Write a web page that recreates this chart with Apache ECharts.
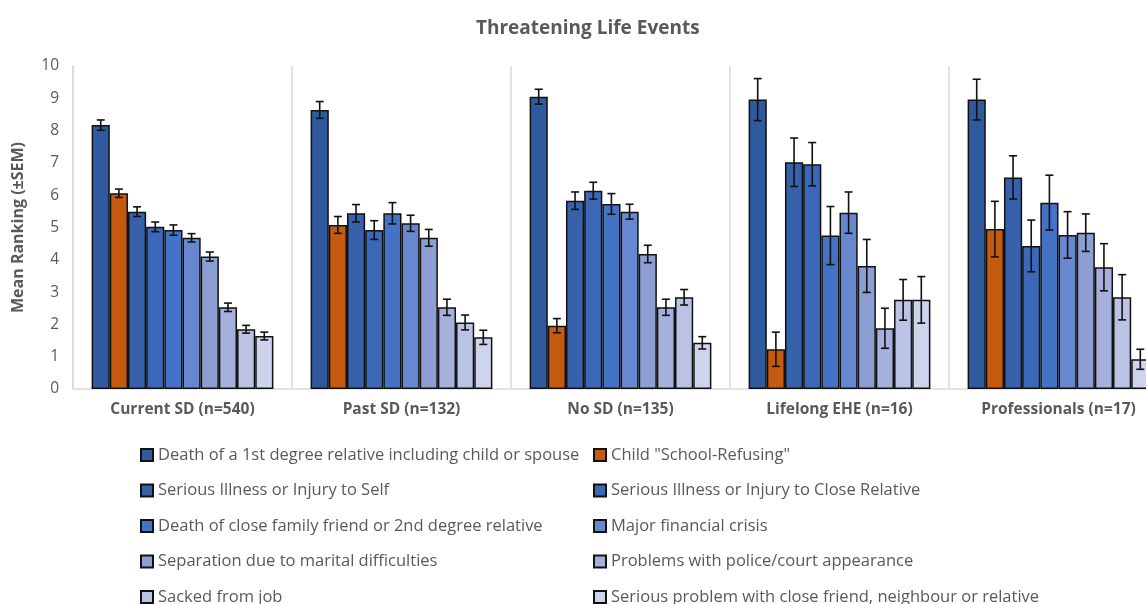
<!DOCTYPE html>
<html>
<head>
<meta charset="utf-8">
<script src="https://cdn.jsdelivr.net/npm/echarts@6/dist/echarts.min.js"></script>
<style>
html,body{margin:0;padding:0;background:#fff;}
#chart{width:1146px;height:604px;}
</style>
</head>
<body>
<div id="chart"></div>
<script>
const groups = ['Current SD (n=540)', 'Past SD (n=132)', 'No SD (n=135)', 'Lifelong EHE (n=16)', 'Professionals (n=17)'];
const eventNames = [
  'Death of a 1st degree relative including child or spouse',
  'Child "School-Refusing"',
  'Serious Illness or Injury to Self',
  'Serious Illness or Injury to Close Relative',
  'Death of close family friend or 2nd degree relative',
  'Major financial crisis',
  'Separation due to marital difficulties',
  'Problems with police/court appearance',
  'Sacked from job',
  'Serious problem with close friend, neighbour or relative'
];
// mean values per event, across the five groups
const deathFirstDegree   = [8.17, 8.64, 9.05, 8.96, 8.96];
const schoolRefusing     = [6.06, 5.08, 1.96, 1.23, 4.95];
const illnessSelf        = [5.49, 5.44, 5.83, 7.02, 6.55];
const illnessRelative    = [5.02, 4.92, 6.14, 6.96, 4.43];
const deathFriend        = [4.92, 5.44, 5.73, 4.75, 5.77];
const financialCrisis    = [4.68, 5.13, 5.49, 5.46, 4.77];
const separation         = [4.10, 4.68, 4.18, 3.81, 4.84];
const policeCourt        = [2.53, 2.53, 2.53, 1.88, 3.77];
const sackedJob          = [1.85, 2.06, 2.84, 2.76, 2.84];
const problemFriend      = [1.64, 1.60, 1.43, 2.76, 0.92];
// SEM per event, across the five groups
const semDeathFirstDegree = [0.16, 0.26, 0.23, 0.65, 0.63];
const semSchoolRefusing   = [0.13, 0.26, 0.22, 0.53, 0.86];
const semIllnessSelf      = [0.15, 0.27, 0.27, 0.75, 0.67];
const semIllnessRelative  = [0.15, 0.29, 0.26, 0.67, 0.80];
const semDeathFriend      = [0.16, 0.33, 0.32, 0.90, 0.85];
const semFinancialCrisis  = [0.13, 0.25, 0.23, 0.64, 0.72];
const semSeparation       = [0.14, 0.26, 0.27, 0.82, 0.58];
const semPoliceCourt      = [0.13, 0.25, 0.25, 0.62, 0.73];
const semSackedJob        = [0.12, 0.23, 0.24, 0.63, 0.70];
const semProblemFriend    = [0.12, 0.22, 0.19, 0.72, 0.31];
const yTicks = [0,1,2,3,4,5,6,7,8,9,10];

const means = [deathFirstDegree, schoolRefusing, illnessSelf, illnessRelative, deathFriend, financialCrisis, separation, policeCourt, sackedJob, problemFriend];
const sems = [semDeathFirstDegree, semSchoolRefusing, semIllnessSelf, semIllnessRelative, semDeathFriend, semFinancialCrisis, semSeparation, semPoliceCourt, semSackedJob, semProblemFriend];
const colors = ['#305a9e', '#c55a11', '#3762ab', '#3c68b8', '#4472c4', '#6787ce', '#8d9ed3', '#a5b1dc', '#bac3e3', '#cdd4eb'];

const FONT = '"Open Sans", "Liberation Sans", sans-serif';
const TXT = '#595959';
const CAT_GAP = 0.17;
const N = means.length;

const series = means.map((vals, i) => ({
  name: eventNames[i],
  type: 'bar',
  data: vals,
  barGap: '0%',
  barCategoryGap: (CAT_GAP * 100) + '%',
  itemStyle: { color: colors[i], borderColor: '#111', borderWidth: 1.5 },
  emphasis: { disabled: true },
  z: 2
}));

const errData = [];
for (let s = 0; s < N; s++) {
  for (let g = 0; g < groups.length; g++) {
    errData.push([g, s, means[s][g] - sems[s][g], means[s][g] + sems[s][g]]);
  }
}

series.push({
  type: 'custom',
  name: 'err',
  data: errData,
  dimensions: ['g', 's', 'lo', 'hi'],
  encode: { x: 0, y: [2, 3] },
  z: 5,
  silent: true,
  renderItem: function (params, api) {
    const g = api.value(0), s = api.value(1);
    const lo = api.coord([g, api.value(2)]);
    const hi = api.coord([g, api.value(3)]);
    const catW = api.size([1, 0])[0];
    const barW = catW * (1 - CAT_GAP) / N;
    const x = lo[0] + (s - (N - 1) / 2) * barW;
    const cap = 4;
    const style = { stroke: '#111', lineWidth: 1.6 };
    return {
      type: 'group',
      children: [
        { type: 'line', shape: { x1: x, y1: lo[1], x2: x, y2: hi[1] }, style: style },
        { type: 'line', shape: { x1: x - cap, y1: lo[1], x2: x + cap, y2: lo[1] }, style: style },
        { type: 'line', shape: { x1: x - cap, y1: hi[1], x2: x + cap, y2: hi[1] }, style: style }
      ]
    };
  }
});

const legendBase = {
  orient: 'vertical',
  top: 446,
  height: 300,
  padding: 0,
  itemWidth: 12,
  itemHeight: 12,
  itemGap: 17.5,
  icon: 'rect',
  selectedMode: false,
  textStyle: { color: TXT, fontSize: 16.5, fontFamily: FONT, lineHeight: 18 }
};

const chart = echarts.init(document.getElementById('chart'), null, { renderer: 'canvas' });
chart.setOption({
  animation: false,
  backgroundColor: '#fff',
  title: {
    text: 'Threatening Life Events',
    left: 471,
    top: 14,
    textStyle: { color: TXT, fontSize: 19, fontWeight: 'bold', fontFamily: FONT }
  },
  legend: [
    Object.assign({}, legendBase, { left: 140, data: eventNames.filter((_, i) => i % 2 === 0) }),
    Object.assign({}, legendBase, { left: 593, data: eventNames.filter((_, i) => i % 2 === 1) })
  ],
  grid: { left: 73, top: 66, width: 1095, height: 323, containLabel: false, outerBoundsMode: 'none' },
  xAxis: {
    type: 'category',
    data: groups,
    axisLine: { show: true, lineStyle: { color: '#d9d9d9', width: 1.5 } },
    axisTick: { show: false },
    splitLine: { show: true, lineStyle: { color: '#d9d9d9', width: 1.5 } },
    axisLabel: { color: TXT, fontSize: 15.5, fontWeight: 'bold', fontFamily: FONT, margin: 13, interval: 0 }
  },
  yAxis: {
    type: 'value',
    min: yTicks[0],
    max: yTicks[yTicks.length - 1],
    interval: 1,
    name: 'Mean Ranking (±SEM)',
    nameLocation: 'middle',
    nameGap: 47,
    nameTextStyle: { color: TXT, fontSize: 16, fontWeight: 'bold', fontFamily: FONT },
    axisLine: { show: true, lineStyle: { color: '#d9d9d9', width: 1.5 } },
    axisTick: { show: false },
    splitLine: { show: false },
    axisLabel: { color: TXT, fontSize: 15.5, fontFamily: FONT, margin: 14 }
  },
  series: series
});
</script>
</body>
</html>
